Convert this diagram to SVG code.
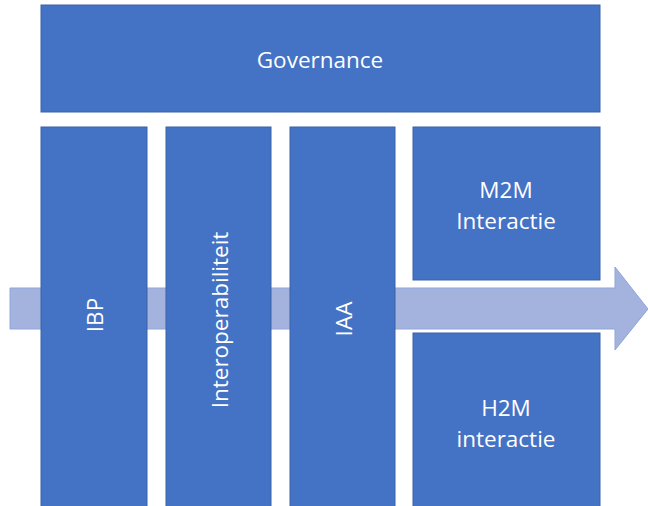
<svg xmlns="http://www.w3.org/2000/svg" width="648" height="506" viewBox="0 0 648 506">
<style>
.box{fill:#4472C4;stroke:#3A62A8;stroke-width:1}
.t{fill:#FFFFFF;font-family:"Open Sans","Liberation Sans",sans-serif;font-size:22.5px;text-anchor:middle;dominant-baseline:central}
</style>
<rect width="648" height="506" fill="#FFFFFF"/>
<g id="connectors">
<path d="M10,288 H615 V267 L648,309 L615,350 V329 H10 Z" fill="#A3B3DD" stroke="#8FA5DA" stroke-width="1"/>
</g>
<g id="governance"><rect class="box" x="41" y="5" width="559" height="107"/><text class="t" x="320" y="59">Governance</text></g>
<g id="ibp"><rect class="box" x="41" y="127" width="106" height="385"/><text class="t" transform="translate(94,315) rotate(-90)">IBP</text></g>
<g id="interop"><rect class="box" x="166" y="127" width="105" height="385"/><text class="t" transform="translate(219,320) rotate(-90)">Interoperabiliteit</text></g>
<g id="iaa"><rect class="box" x="290" y="127" width="105" height="385"/><text class="t" transform="translate(343,319) rotate(-90)">IAA</text></g>
<g id="m2m"><rect class="box" x="413" y="127" width="187" height="153"/><text class="t" x="506" y="189">M2M</text><text class="t" x="506" y="220">Interactie</text></g>
<g id="h2m"><rect class="box" x="413" y="333" width="187" height="179"/><text class="t" x="506" y="407">H2M</text><text class="t" x="506" y="438">interactie</text></g>
</svg>
